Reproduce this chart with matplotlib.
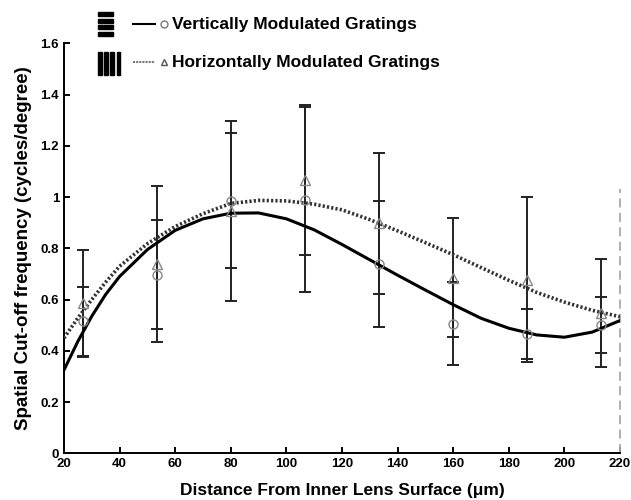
import numpy as np
import matplotlib
matplotlib.use('Agg')
from matplotlib import pyplot as plt
from matplotlib.ticker import FuncFormatter
from matplotlib.patches import Rectangle

plt.rcParams['font.family'] = ['Liberation Sans', 'DejaVu Sans']
plt.rcParams['font.weight'] = 'bold'

# measured depths (um)
depth = [26.7, 53.3, 80, 106.7, 133.3, 160, 186.7, 213.3]
# vertically modulated gratings (circles)
vert_mean = [0.515, 0.697, 0.986, 0.989, 0.739, 0.506, 0.466, 0.500]
vert_err = [0.134, 0.213, 0.264, 0.361, 0.247, 0.163, 0.099, 0.110]
# horizontally modulated gratings (triangles)
hor_mean = [0.585, 0.738, 0.945, 1.066, 0.897, 0.686, 0.677, 0.547]
hor_err = [0.208, 0.305, 0.350, 0.293, 0.276, 0.232, 0.322, 0.210]

# fitted curves
fit_x = [20, 25, 30, 35, 40, 50, 60, 70, 80, 90, 100, 110, 120,
         130, 140, 150, 160, 170, 180, 190, 200, 210, 220]
vert_fit = [0.325, 0.437, 0.535, 0.620, 0.690, 0.795, 0.870, 0.915, 0.937, 0.938, 0.915, 0.872, 0.815,
            0.755, 0.695, 0.637, 0.580, 0.527, 0.488, 0.462, 0.453, 0.473, 0.518]
hor_fit = [0.450, 0.528, 0.600, 0.668, 0.730, 0.818, 0.885, 0.935, 0.975, 0.987, 0.985, 0.972, 0.950,
           0.912, 0.868, 0.822, 0.775, 0.725, 0.675, 0.628, 0.590, 0.558, 0.533]

fig = plt.figure(figsize=(6.31, 5.0), dpi=100)
ax = fig.add_axes([0.1014, 0.0934, 0.8812, 0.82])

ax.plot(fit_x, hor_fit, ls=(0, (0.6, 0.6)), color='#333333', lw=2.6, zorder=3)
ax.plot(fit_x, vert_fit, '-', color='black', lw=2.2, zorder=4)

ax.errorbar(depth, vert_mean, yerr=vert_err, fmt='none', ecolor='#222222',
            elinewidth=1.4, capsize=4, capthick=1.4, zorder=2)
ax.errorbar(depth, hor_mean, yerr=hor_err, fmt='none', ecolor='#222222',
            elinewidth=1.4, capsize=4, capthick=1.4, zorder=2)
ax.plot(depth, vert_mean, 'o', mfc='none', mec='#888888', ms=6.5, mew=1, zorder=5)
ax.plot(depth, hor_mean, '^', mfc='none', mec='#888888', ms=6.5, mew=1, zorder=5)

ax.plot([220, 220], [0, 1.03], ls=(0, (5, 3)), color='#aaaaaa', lw=1.3, clip_on=False)

ax.set_xlim(20, 220)
ax.set_ylim(0, 1.6)
ax.set_xticks(np.arange(20, 221, 20))
ax.set_yticks(np.arange(0, 1.61, 0.2))
ax.yaxis.set_major_formatter(FuncFormatter(lambda v, p: ('%g' % round(v, 1))))
for s in ['top', 'right']:
    ax.spines[s].set_visible(False)
for s in ['left', 'bottom']:
    ax.spines[s].set_linewidth(1.4)
ax.tick_params(direction='in', length=4, width=1.4, labelsize=9.5)
for lab in ax.get_xticklabels() + ax.get_yticklabels():
    lab.set_fontweight('bold')

ax.set_xlabel('Distance From Inner Lens Surface (\u03bcm)', fontsize=12.5,
              fontweight='bold', labelpad=9)
ax.set_ylabel('Spatial Cut-off frequency (cycles/degree)', fontsize=13.5,
              fontweight='bold', labelpad=6)

# legend with grating icons
W, H = 631.0, 500.0
def fx(px):
    return px / W
def fy(py):
    return 1 - py / H

# horizontal stripes icon
for i in range(4):
    top = 12 + i * 6.6
    fig.patches.append(Rectangle((fx(98), fy(top + 4)), 15 / W, 4 / H,
                                 transform=fig.transFigure, color='black'))
# vertical stripes icon
for i in range(4):
    left = 98 + i * 6.2
    fig.patches.append(Rectangle((fx(left), fy(75)), 3.8 / W, 23 / H,
                                 transform=fig.transFigure, color='black'))

fig.add_artist(plt.Line2D([fx(133), fx(155)], [fy(24), fy(24)], color='black', lw=1.5,
                          transform=fig.transFigure))
fig.add_artist(plt.Line2D([fx(164)], [fy(24)], marker='o', mfc='none', mec='#777777',
                          ms=5, mew=1, transform=fig.transFigure))
fig.text(fx(172), fy(24), 'Vertically Modulated Gratings', fontsize=12.5,
         fontweight='bold', va='center', ha='left')

fig.add_artist(plt.Line2D([fx(133), fx(155)], [fy(62), fy(62)], color='#777777', lw=1.5,
                          ls=(0, (1, 0.5)), transform=fig.transFigure))
fig.add_artist(plt.Line2D([fx(164)], [fy(62)], marker='^', mfc='none', mec='#555555',
                          ms=5, mew=1, transform=fig.transFigure))
fig.text(fx(172), fy(62), 'Horizontally Modulated Gratings', fontsize=12.5,
         fontweight='bold', va='center', ha='left')

fig.savefig('out.png', dpi=100)
